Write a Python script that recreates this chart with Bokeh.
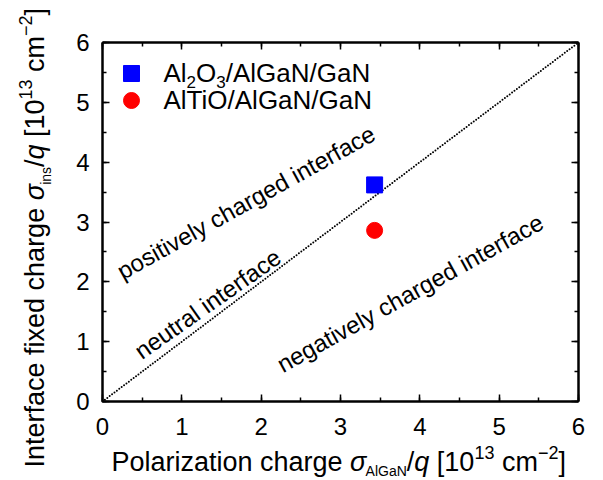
import math
from bokeh.plotting import figure
from bokeh.models import Label, LinearAxis, SingleIntervalTicker, CustomJSTickFormatter, ColumnDataSource
from bokeh.embed import file_html
from bokeh.resources import INLINE

# ---------------- data ----------------
series_names = ["Al_2O_3/AlGaN/GaN", "AlTiO/AlGaN/GaN"]
sigma_algan = [3.43, 3.43]          # polarization charge [1e13 cm^-2]
sigma_ins = [3.62, 2.86]            # interface fixed charge [1e13 cm^-2]
series_markers = ["square", "circle"]
series_colors = ["#0000ff", "#ff0000"]
neutral_x = [0, 6]
neutral_y = [0, 6]
x_ticks = [0, 1, 2, 3, 4, 5, 6]
y_ticks = [0, 1, 2, 3, 4, 5, 6]
region_texts = ["positively charged interface", "neutral interface", "negatively charged interface"]

# ---------------- layout ----------------
FONT = "Liberation Sans"
W, H = 603, 480
FL, FR, FT, FB = 102, 578, 42, 401   # axes box edges in canvas px
XMIN, XMAX, YMIN, YMAX = x_ticks[0], x_ticks[-1], y_ticks[0], y_ticks[-1]
UX = (FR - FL) / (XMAX - XMIN)
UY = (FB - FT) / (YMAX - YMIN)
BASE_FIX = 0.32   # renderer draws "alphabetic" text this many em lower


def dx(px):  # canvas px -> data x
    return XMIN + (px - FL) / UX


def dy(py):  # canvas px -> data y
    return YMIN + (FB - py) / UY


# Arial / Liberation Sans advance widths (em)
CW = {" ": .278, "/": .278, "[": .278, "]": .278, "\u2212": .584, "\u03c3": .574,
      "A": .667, "G": .778, "I": .278, "N": .722, "O": .778, "P": .667, "T": .611,
      "a": .556, "c": .5, "d": .556, "e": .556, "f": .278, "g": .556, "h": .556,
      "i": .222, "l": .222, "m": .833, "n": .556, "o": .556, "q": .556, "r": .333,
      "s": .5, "t": .278, "x": .5, "z": .5, "y": .5, "v": .5, "u": .556}


def seg_width(text, size):
    return sum(CW.get(ch, 0.556) for ch in text) * size


p = figure(width=W, height=H,
           x_range=(dx(0), dx(W)), y_range=(dy(H), dy(0)),
           output_backend="svg", toolbar_location=None,
           min_border=0, min_border_left=0, min_border_right=0,
           min_border_top=0, min_border_bottom=0)
p.grid.visible = False
p.background_fill_color = "white"
p.border_fill_color = "white"
p.outline_line_color = None

p.xaxis.fixed_location = YMIN
p.yaxis.fixed_location = XMIN
p.add_layout(LinearAxis(fixed_location=XMAX), "right")
p.add_layout(LinearAxis(fixed_location=YMAX), "above")

for ax in p.axis:
    ax.axis_line_width = 2.5
    ax.axis_line_color = "black"
    ax.major_tick_in = 7
    ax.major_tick_out = 0
    ax.minor_tick_in = 4
    ax.minor_tick_out = 0
    ax.major_tick_line_width = 1.5
    ax.minor_tick_line_width = 1.5
    ax.major_tick_line_color = "black"
    ax.minor_tick_line_color = "black"
    ax.ticker = SingleIntervalTicker(interval=1, num_minor_ticks=2)
    ax.major_label_text_font = FONT
    ax.major_label_text_font_size = "24px"
    ax.major_label_text_color = "black"

for ax in p.below + p.above:
    ax.bounds = (XMIN, XMAX)
for ax in p.left + p.right:
    ax.bounds = (YMIN, YMAX)

p.right[0].formatter = CustomJSTickFormatter(code="return ''")
p.above[0].formatter = CustomJSTickFormatter(code="return ''")
p.below[0].major_label_standoff = 16
p.left[0].major_label_standoff = 13

# neutral line (dotted)
p.line(neutral_x, neutral_y, line_color="black", line_width=2, line_dash="0 3",
       line_cap="round")

# data points
src = ColumnDataSource(dict(x=sigma_algan, y=sigma_ins, m=series_markers, c=series_colors))
p.scatter("x", "y", marker="m", color="c", size=16, source=src)


def add_label(cx, cy, text, size, style="normal", angle=0.0):
    """cx, cy: wanted baseline start in canvas px; angle in radians (ccw)."""
    c = BASE_FIX * size
    ax_ = cx - c * math.sin(angle)
    ay_ = cy - c * math.cos(angle)
    p.add_layout(Label(x=dx(ax_), y=dy(ay_), text=text, text_font=FONT,
                       text_font_size=f"{size}px", text_font_style=style,
                       text_color="black", text_align="left",
                       text_baseline="alphabetic", angle=angle))


def place_h(segs, x0, base):
    x = x0
    for text, size, shift, style in segs:
        lead = (len(text) - len(text.lstrip())) * CW[" "] * size
        add_label(x + lead, base - shift, text.strip(), size, style)
        x += seg_width(text, size)


def place_v(segs, base_x, y0):
    y = y0
    for text, size, shift, style in segs:
        lead = (len(text) - len(text.lstrip())) * CW[" "] * size
        add_label(base_x - shift, y - lead, text.strip(), size, style, math.pi / 2)
        y -= seg_width(text, size)


S, SUB, SUP = 27, 14, 18
xlabel = [("Polarization charge ", S, 0, "normal"), ("\u03c3", S, 0, "italic"),
          ("AlGaN", SUB, -5, "normal"), ("/", S, 0, "normal"), ("q", S, 0, "italic"),
          (" [10", S, 0, "normal"), ("13", SUP, 12, "normal"), (" cm", S, 0, "normal"),
          ("\u22122", SUP, 12, "normal"), ("]", S, 0, "normal")]
ylabel = [("Interface fixed charge ", S, 0, "normal"), ("\u03c3", S, 0, "italic"),
          ("ins", SUB, -7, "normal"), ("/", S, 0, "normal"), ("q", S, 0, "italic"),
          (" [10", S, 0, "normal"), ("13", SUP, 12, "normal"), (" cm", S, 0, "normal"),
          ("\u22122", SUP, 12, "normal"), ("]", S, 0, "normal")]
place_h(xlabel, 111, 470)
place_v(ylabel, 43, 467)

# manual legend
LEG_X, LEG_Y0, LEG_DY, LEG_TX = 131, 73, 27, 163
p.scatter([dx(LEG_X)] * 2, [dy(LEG_Y0), dy(LEG_Y0 + LEG_DY)], marker=series_markers,
          color=series_colors, size=16)
for i, name in enumerate(series_names):
    segs = []
    j = 0
    buf = ""
    while j < len(name):
        if name[j] == "_":
            if buf:
                segs.append((buf, 26, 0, "normal"))
                buf = ""
            segs.append((name[j + 1], 17, -6, "normal"))
            j += 2
        else:
            buf += name[j]
            j += 1
    if buf:
        segs.append((buf, 26, 0, "normal"))
    place_h(segs, LEG_TX, LEG_Y0 + 8 + i * LEG_DY)

# region annotations
add_label(122, 279, region_texts[0], 24, angle=math.radians(29))
add_label(141, 359, region_texts[1], 24, angle=math.radians(35))
add_label(282, 372, region_texts[2], 24, angle=math.radians(29))

open("out.html", "w").write(file_html(p, INLINE))
